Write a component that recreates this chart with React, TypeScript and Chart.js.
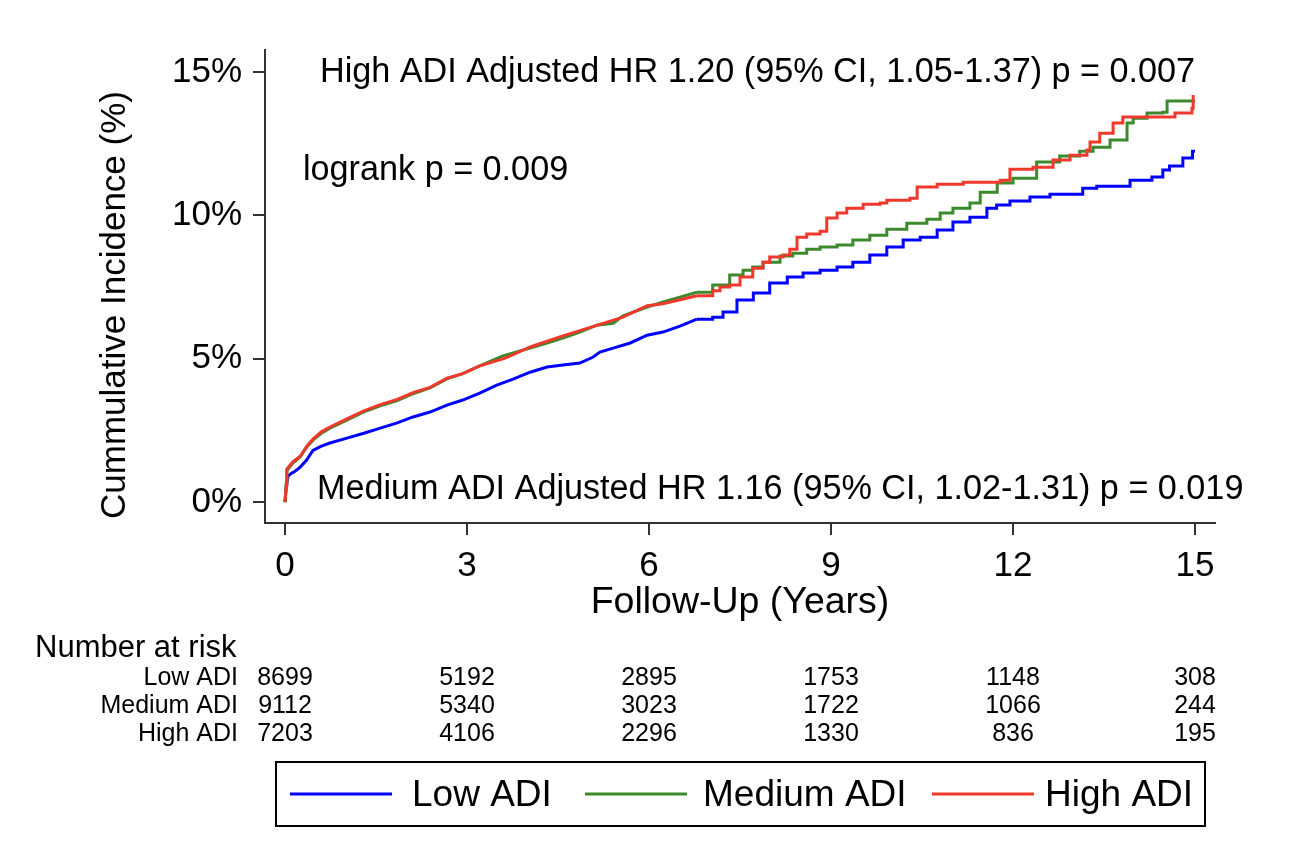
import React, { useEffect, useRef } from "react";
import { Chart, registerables } from "chart.js";

Chart.register(...registerables);

const FONT = '"Liberation Sans", Arial, Helvetica, sans-serif';

// ---- data ----
const seriesNames = ["Low ADI", "Medium ADI", "High ADI"];
const seriesColors = ["#0000ff", "#3b8a2c", "#f0382c"];

// cumulative incidence (%) vs follow-up (years)
const lowADI: [number, number][] = [
  [0, 0], [0.02, 0.55], [0.05, 0.9], [0.1, 1.0], [0.15, 1.05], [0.25, 1.22], [0.35, 1.45], [0.46, 1.8],
  [0.6, 1.95], [0.74, 2.06], [1.02, 2.23], [1.3, 2.4], [1.57, 2.58], [1.85, 2.76], [2.11, 2.97],
  [2.39, 3.14], [2.67, 3.38], [2.93, 3.56], [3.21, 3.8], [3.49, 4.08], [3.76, 4.29], [4.04, 4.53],
  [4.32, 4.71], [4.58, 4.78], [4.86, 4.85], [5.08, 5.06], [5.19, 5.23], [5.41, 5.37], [5.69, 5.55],
  [5.97, 5.82], [6.23, 5.93], [6.51, 6.14], [6.79, 6.38], [7.05, 6.45], [7.22, 6.63], [7.45, 7.05],
  [7.72, 7.29], [7.99, 7.64], [8.28, 7.85], [8.54, 7.99], [8.82, 8.09], [9.1, 8.2], [9.36, 8.37],
  [9.64, 8.62], [9.92, 8.9], [10.19, 9.14], [10.47, 9.24], [10.75, 9.49], [11.01, 9.77], [11.29, 9.94],
  [11.57, 10.25], [11.73, 10.36], [11.95, 10.5], [12.28, 10.64], [12.61, 10.74], [13.15, 10.95],
  [13.38, 11.02], [13.93, 11.23], [14.29, 11.34], [14.47, 11.58], [14.58, 11.72], [14.8, 12.0],
  [14.96, 12.24], [15.0, 12.24],
];

const mediumADI: [number, number][] = [
  [0, 0], [0.02, 0.6], [0.03, 1.1], [0.13, 1.36], [0.25, 1.57], [0.36, 1.92], [0.46, 2.16], [0.6, 2.4],
  [0.74, 2.58], [1.02, 2.86], [1.29, 3.14], [1.57, 3.36], [1.85, 3.54], [2.11, 3.78], [2.39, 3.98],
  [2.67, 4.3], [2.93, 4.48], [3.21, 4.75], [3.59, 5.1], [4.04, 5.37], [4.32, 5.55], [4.58, 5.72],
  [4.86, 5.93], [5.14, 6.17], [5.41, 6.24], [5.57, 6.5], [5.97, 6.8], [6.23, 6.98], [6.51, 7.15],
  [6.79, 7.32], [7.05, 7.57], [7.33, 7.92], [7.55, 8.09], [7.71, 8.2], [7.88, 8.37], [8.16, 8.58],
  [8.37, 8.68], [8.6, 8.82], [8.82, 8.9], [9.1, 8.97], [9.36, 9.14], [9.64, 9.31], [9.92, 9.52],
  [10.25, 9.73], [10.58, 9.87], [10.8, 10.08], [11.01, 10.25], [11.29, 10.43], [11.46, 10.81],
  [11.74, 11.13], [12.0, 11.3], [12.39, 11.86], [12.77, 12.07], [13.1, 12.24], [13.32, 12.38],
  [13.6, 12.63], [13.88, 13.22], [13.98, 13.39], [14.21, 13.57], [14.47, 13.6], [14.54, 13.99],
  [15.0, 13.99],
];

const highADI: [number, number][] = [
  [0, 0], [0.02, 0.6], [0.03, 1.15], [0.13, 1.4], [0.25, 1.6], [0.36, 1.95], [0.46, 2.2], [0.6, 2.45],
  [0.74, 2.62], [1.02, 2.9], [1.29, 3.17], [1.57, 3.4], [1.85, 3.58], [2.11, 3.82], [2.39, 4.0],
  [2.67, 4.32], [2.93, 4.48], [3.21, 4.75], [3.63, 5.02], [4.04, 5.41], [4.58, 5.8], [4.86, 5.98],
  [5.19, 6.2], [5.57, 6.45], [5.97, 6.85], [6.23, 6.92], [6.51, 7.06], [6.79, 7.2], [7.05, 7.37],
  [7.17, 7.5], [7.33, 7.57], [7.5, 7.85], [7.71, 8.16], [7.88, 8.37], [7.99, 8.55], [8.21, 8.62],
  [8.32, 8.82], [8.44, 9.24], [8.6, 9.35], [8.82, 9.45], [8.93, 9.91], [9.1, 10.08], [9.26, 10.25],
  [9.53, 10.39], [9.81, 10.43], [9.92, 10.53], [10.3, 10.6], [10.42, 10.99], [10.75, 11.09],
  [11.18, 11.16], [11.79, 11.23], [11.95, 11.61], [12.33, 11.68], [12.66, 11.93], [12.94, 12.1],
  [13.22, 12.28], [13.27, 12.56], [13.43, 12.87], [13.65, 13.22], [13.81, 13.43], [14.14, 13.43],
  [14.67, 13.57], [14.95, 13.74], [14.97, 14.2],
];

const xTicks = [0, 3, 6, 9, 12, 15];
const yTicks = [0, 5, 10, 15];

const riskTimes = [0, 3, 6, 9, 12, 15];
const lowRisk = [8699, 5192, 2895, 1753, 1148, 308];
const mediumRisk = [9112, 5340, 3023, 1722, 1066, 244];
const highRisk = [7203, 4106, 2296, 1330, 836, 195];

const xTitle = "Follow-Up (Years)";
const yTitle = "Cummulative Incidence (%)";
const highHRText = "High ADI Adjusted HR 1.20 (95% CI, 1.05-1.37) p = 0.007";
const logrankText = "logrank p = 0.009";
const mediumHRText = "Medium ADI Adjusted HR 1.16 (95% CI, 1.02-1.31) p = 0.019";
const riskTitle = "Number at risk";

// follow-up time after which the step pattern of the curves becomes visible
const STEP_FROM = 7;

const overlayPlugin = {
  id: "overlay",
  afterDraw(chart: any) {
    const ctx: CanvasRenderingContext2D = chart.ctx;
    const xs = chart.scales.x;
    ctx.save();
    ctx.fillStyle = "#000";

    // y-axis title
    ctx.save();
    ctx.translate(115, 305);
    ctx.rotate(-Math.PI / 2);
    ctx.font = `35px ${FONT}`;
    ctx.textAlign = "center";
    ctx.textBaseline = "middle";
    ctx.fillText(yTitle, 0, 0);
    ctx.restore();

    // annotations
    ctx.font = `34.2px ${FONT}`;
    ctx.textAlign = "left";
    ctx.textBaseline = "middle";
    ctx.fillText(highHRText, 320, 73);
    ctx.fillText(logrankText, 303, 171);
    ctx.fillText(mediumHRText, 317, 490);

    // number at risk table
    ctx.font = `31px ${FONT}`;
    ctx.textAlign = "left";
    ctx.fillText(riskTitle, 35, 648);
    const rows = [lowRisk, mediumRisk, highRisk];
    const rowY = [678, 706, 734];
    ctx.font = `25px ${FONT}`;
    rows.forEach((row, r) => {
      ctx.textAlign = "right";
      ctx.fillText(seriesNames[r], 238, rowY[r]);
      ctx.textAlign = "center";
      row.forEach((n, i) => {
        ctx.fillText(String(n), xs.getPixelForValue(riskTimes[i]), rowY[r]);
      });
    });

    // legend box
    ctx.strokeStyle = "#000";
    ctx.lineWidth = 2;
    ctx.strokeRect(276, 762, 929, 64);
    const lineX = [290, 585, 932];
    const textX = [412, 703, 1045];
    ctx.font = `37px ${FONT}`;
    ctx.textAlign = "left";
    seriesNames.forEach((name, i) => {
      ctx.strokeStyle = seriesColors[i];
      ctx.lineWidth = 3;
      ctx.beginPath();
      ctx.moveTo(lineX[i], 794);
      ctx.lineTo(lineX[i] + 102, 794);
      ctx.stroke();
      ctx.fillStyle = "#000";
      ctx.fillText(name, textX[i], 796);
    });
    ctx.restore();
  },
};

export default function App() {
  const ref = useRef<HTMLCanvasElement | null>(null);

  useEffect(() => {
    if (!ref.current) return;
    const series = [lowADI, mediumADI, highADI];
    const datasets: any[] = [];
    series.forEach((s, i) => {
      const pts = s.map(([x, y]) => ({ x, y }));
      const early = pts.filter((p) => p.x <= STEP_FROM);
      const late = pts.filter((p) => p.x >= early[early.length - 1].x);
      const base = {
        label: seriesNames[i],
        borderColor: seriesColors[i],
        backgroundColor: seriesColors[i],
        borderWidth: 3,
        pointRadius: 0,
        fill: false,
        order: 2 - i,
      };
      datasets.push({ ...base, data: early, tension: 0 });
      datasets.push({ ...base, data: late, stepped: true });
    });
    const chart = new Chart(ref.current, {
      type: "line",
      data: { datasets },
      options: {
        responsive: false,
        animation: false,
        devicePixelRatio: 1,
        layout: { padding: { left: 0, right: 83, top: 50, bottom: 225 } },
        plugins: { legend: { display: false }, tooltip: { enabled: false } },
        font: { family: FONT },
        scales: {
          x: {
            type: "linear",
            min: -0.33,
            max: 15.33,
            afterBuildTicks: (s: any) => {
              s.ticks = xTicks.map((v) => ({ value: v }));
            },
            afterFit: (s: any) => {
              s.height = 110;
            },
            border: { display: true, color: "#333", width: 2 },
            grid: { drawOnChartArea: false, drawTicks: true, tickLength: 12, color: "#333", lineWidth: 2 },
            ticks: { font: { family: FONT, size: 35 }, color: "#000", padding: 10, maxRotation: 0 },
            title: {
              display: true,
              text: xTitle,
              font: { family: FONT, size: 37.5 },
              color: "#000",
              padding: { top: 0, bottom: 8 },
            },
          },
          y: {
            type: "linear",
            min: -0.73,
            max: 15.77,
            afterBuildTicks: (s: any) => {
              s.ticks = yTicks.map((v) => ({ value: v }));
            },
            afterFit: (s: any) => {
              s.width = 265;
            },
            border: { display: true, color: "#333", width: 2 },
            grid: { drawOnChartArea: false, drawTicks: true, tickLength: 12, color: "#333", lineWidth: 2 },
            ticks: {
              font: { family: FONT, size: 35 },
              color: "#000",
              padding: 11,
              callback: (v: any) => `${v}%`,
            },
          },
        },
      },
      plugins: [overlayPlugin],
    } as any);
    return () => chart.destroy();
  }, []);

  return (
    <div style={{ position: "fixed", left: 0, top: 0, width: 1298, height: 858, background: "#fff" }}>
      <canvas ref={ref} width={1298} height={858} style={{ width: 1298, height: 858 }} />
    </div>
  );
}
